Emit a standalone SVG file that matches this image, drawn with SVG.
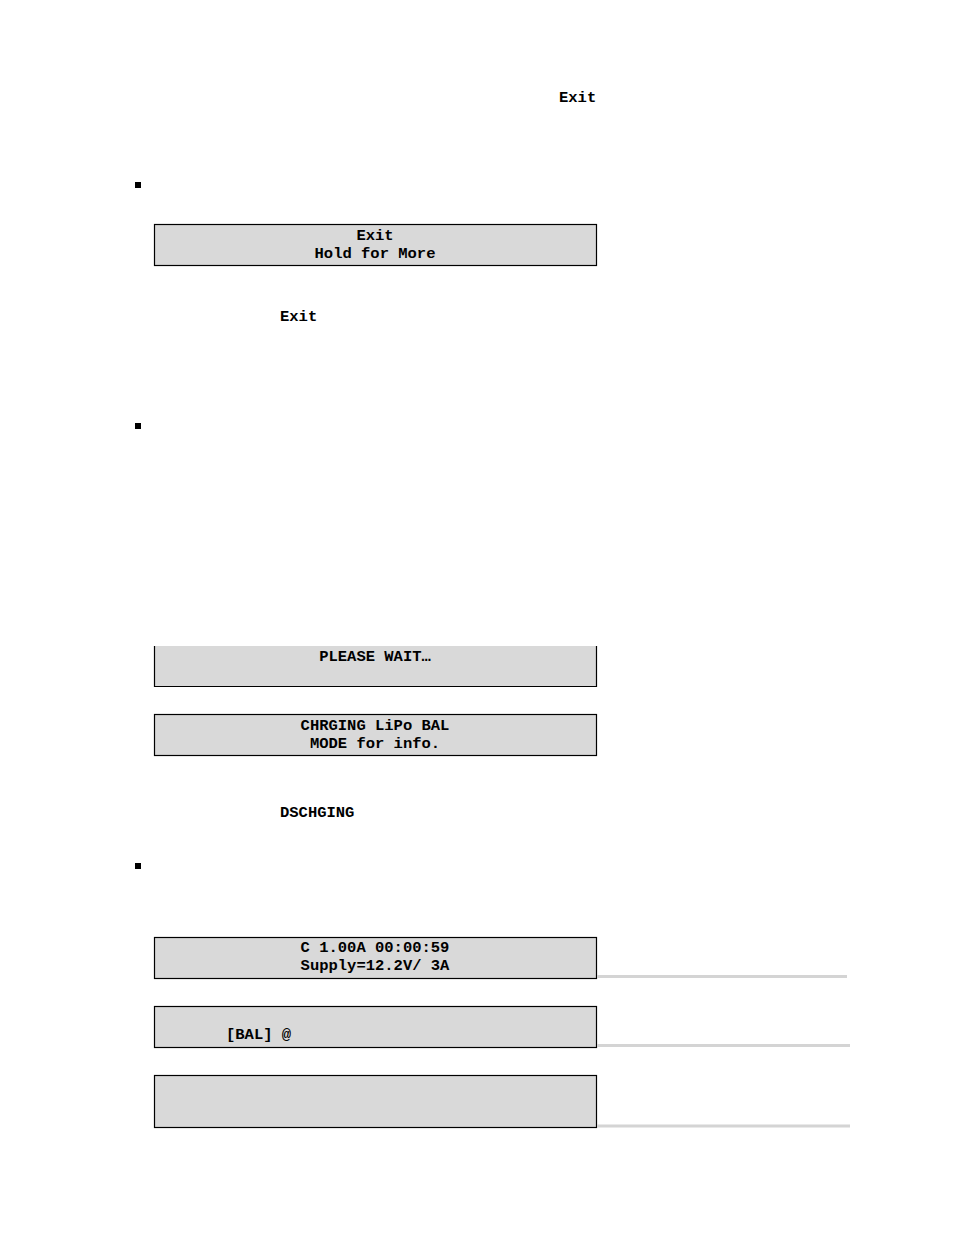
<svg xmlns="http://www.w3.org/2000/svg" width="954" height="1235" viewBox="0 0 954 1235">
<style>
.t{font-family:"Liberation Mono",monospace;font-weight:bold;font-size:15.5px;fill:#000}
.m{text-anchor:middle}
.b{fill:#d9d9d9;stroke:#000;stroke-width:1.2}
.g{stroke:#d4d4d4;stroke-width:3}
</style>
<rect width="954" height="1235" fill="#fff"/>
<text class="t" x="559" y="102">Exit</text>
<rect x="135" y="182" width="6" height="6" fill="#000"/>
<rect x="135" y="423" width="6" height="6" fill="#000"/>
<rect x="135" y="863" width="6" height="6" fill="#000"/>
<g id="box1"><rect class="b" x="154.5" y="224.5" width="442" height="41"/>
<text class="t m" x="375" y="240">Exit</text><text class="t m" x="375" y="258">Hold for More</text></g>
<text class="t" x="280" y="321">Exit</text>
<g id="box2"><rect x="154.5" y="646" width="442" height="40.5" fill="#d9d9d9"/>
<path d="M154.5 646V686.5H596.5V646" fill="none" stroke="#000" stroke-width="1.2"/>
<text class="t m" x="375" y="661">PLEASE WAIT…</text></g>
<g id="box3"><rect class="b" x="154.5" y="714.5" width="442" height="41"/>
<text class="t m" x="375" y="730">CHRGING LiPo BAL</text><text class="t m" x="375" y="748">MODE for info.</text></g>
<text class="t" x="280" y="817">DSCHGING</text>
<g id="box4"><rect class="b" x="154.5" y="937.5" width="442" height="41"/>
<text class="t m" x="375" y="952">C 1.00A 00:00:59</text><text class="t m" x="375" y="970">Supply=12.2V/ 3A</text></g>
<g id="box5"><rect class="b" x="154.5" y="1006.5" width="442" height="41"/>
<text class="t" x="226" y="1039">[BAL] @</text></g>
<g id="box6"><rect class="b" x="154.5" y="1075.5" width="442" height="52"/></g>
<g id="connectors">
<line class="g" x1="597" y1="976.5" x2="847" y2="976.5"/>
<line class="g" x1="597" y1="1045.5" x2="850" y2="1045.5"/>
<line class="g" x1="597" y1="1126" x2="850" y2="1126"/>
</g>
</svg>
